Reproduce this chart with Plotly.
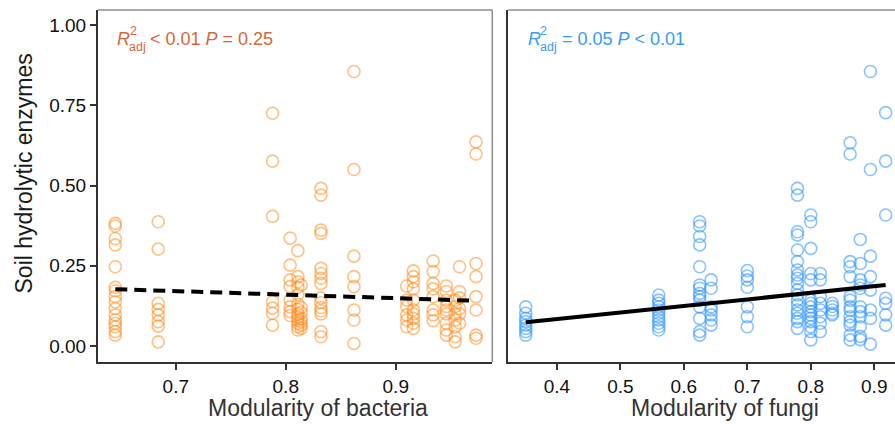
import plotly.graph_objects as go

# ---------------- data ----------------
bac_mod = [0.645, 0.684, 0.788, 0.804, 0.811, 0.814, 0.832, 0.862,
           0.910, 0.916, 0.934, 0.946, 0.954, 0.958, 0.973]
bac_enz = [
    [0.382, 0.374, 0.335, 0.315, 0.247, 0.183, 0.172, 0.154, 0.138, 0.117, 0.097, 0.081, 0.071, 0.060, 0.045, 0.034],
    [0.387, 0.302, 0.133, 0.114, 0.097, 0.076, 0.062, 0.013],
    [0.725, 0.576, 0.404, 0.138, 0.118, 0.102, 0.065],
    [0.336, 0.252, 0.206, 0.185, 0.143, 0.122, 0.107, 0.095],
    [0.297, 0.216, 0.200, 0.183, 0.160, 0.130, 0.115, 0.100, 0.090, 0.080, 0.070, 0.060, 0.050],
    [0.190, 0.120, 0.105, 0.085, 0.075, 0.065, 0.055],
    [0.491, 0.470, 0.361, 0.351, 0.242, 0.226, 0.211, 0.195, 0.150, 0.135, 0.120, 0.110, 0.100, 0.045, 0.029],
    [0.855, 0.550, 0.280, 0.216, 0.185, 0.112, 0.081, 0.008],
    [0.187, 0.143, 0.123, 0.097, 0.081, 0.060],
    [0.234, 0.216, 0.200, 0.178, 0.143, 0.112, 0.100, 0.086, 0.071, 0.055],
    [0.265, 0.232, 0.195, 0.178, 0.154, 0.112, 0.097, 0.079],
    [0.187, 0.170, 0.143, 0.123, 0.112, 0.100, 0.071, 0.050, 0.034],
    [0.143, 0.123, 0.100, 0.081, 0.060, 0.029, 0.013],
    [0.247, 0.170, 0.150, 0.117, 0.100, 0.071],
    [0.636, 0.598, 0.257, 0.216, 0.154, 0.112, 0.034, 0.024],
]

fun_mod = [0.351, 0.5605, 0.625, 0.643, 0.700, 0.779, 0.800, 0.815,
           0.834, 0.862, 0.878, 0.894, 0.918]
fun_enz = [
    [0.122, 0.102, 0.086, 0.076, 0.065, 0.055, 0.045, 0.034],
    [0.159, 0.143, 0.133, 0.122, 0.112, 0.102, 0.091, 0.081, 0.071, 0.060, 0.050],
    [0.387, 0.374, 0.341, 0.315, 0.247, 0.190, 0.180, 0.164, 0.154, 0.143, 0.122, 0.086, 0.045, 0.034],
    [0.206, 0.180, 0.122, 0.112, 0.097, 0.081, 0.065],
    [0.235, 0.218, 0.206, 0.183, 0.122, 0.091, 0.060],
    [0.491, 0.470, 0.356, 0.346, 0.299, 0.263, 0.237, 0.221, 0.211, 0.195, 0.174, 0.159, 0.143, 0.128, 0.112, 0.102, 0.086, 0.076, 0.055],
    [0.408, 0.387, 0.304, 0.226, 0.206, 0.143, 0.133, 0.122, 0.107, 0.097, 0.086, 0.076, 0.060, 0.045, 0.019],
    [0.226, 0.206, 0.154, 0.133, 0.112, 0.091, 0.071, 0.045],
    [0.133, 0.123, 0.112, 0.102, 0.097],
    [0.633, 0.598, 0.263, 0.247, 0.216, 0.154, 0.143, 0.122, 0.112, 0.091, 0.076, 0.065, 0.034, 0.019],
    [0.332, 0.257, 0.206, 0.190, 0.180, 0.122, 0.107, 0.091, 0.060, 0.030, 0.020],
    [0.855, 0.550, 0.280, 0.216, 0.174, 0.112, 0.086, 0.006],
    [0.727, 0.576, 0.408, 0.149, 0.133, 0.097, 0.065],
]

# fitted lines: intercept, slope
bac_fit = [0.248, -0.110]
fun_fit = [0.002, 0.2046]

y_ticks = [0.00, 0.25, 0.50, 0.75, 1.00]
y_tick_labels = ["0.00", "0.25", "0.50", "0.75", "1.00"]
bac_ticks = [0.7, 0.8, 0.9]
fun_ticks = [0.4, 0.5, 0.6, 0.7, 0.8, 0.9]

# ---------------- figure ----------------
W, H = 895, 431

def flat(xs, ys):
    fx, fy = [], []
    for x, col in zip(xs, ys):
        fx += [x] * len(col)
        fy += col
    return fx, fy

bx, by = flat(bac_mod, bac_enz)
fx, fy = flat(fun_mod, fun_enz)

ORANGE = "rgba(255,140,30,0.55)"
BLUE = "rgba(40,145,255,0.55)"

fig = go.Figure()
fig.add_trace(go.Scatter(x=bx, y=by, mode="markers", xaxis="x", yaxis="y",
                         marker=dict(symbol="circle-open", size=12, color=ORANGE,
                                     line=dict(width=1.6, color=ORANGE)),
                         showlegend=False, hoverinfo="skip"))
fig.add_trace(go.Scatter(x=fx, y=fy, mode="markers", xaxis="x2", yaxis="y2",
                         marker=dict(symbol="circle-open", size=12, color=BLUE,
                                     line=dict(width=1.6, color=BLUE)),
                         showlegend=False, hoverinfo="skip"))

bl = [min(bac_mod), max(bac_mod)]
fig.add_trace(go.Scatter(x=bl, y=[bac_fit[0] + bac_fit[1] * v for v in bl],
                         mode="lines", xaxis="x", yaxis="y",
                         line=dict(color="black", width=4, dash="12px,7px"),
                         showlegend=False, hoverinfo="skip"))
fl = [min(fun_mod), max(fun_mod)]
fig.add_trace(go.Scatter(x=fl, y=[fun_fit[0] + fun_fit[1] * v for v in fl],
                         mode="lines", xaxis="x2", yaxis="y2",
                         line=dict(color="black", width=4),
                         showlegend=False, hoverinfo="skip"))

AX = "#333333"
y_dom = [1 - 362 / H, 1 - 10 / H]
y_rng = [-0.0498, 1.0467]
common_x = dict(showgrid=False, zeroline=False, showline=True, linecolor=AX, linewidth=1.5,
                ticks="outside", ticklen=6, tickwidth=1.5, tickcolor=AX,
                tickfont=dict(family="Liberation Sans, Arial", size=19, color="#111111"))

fig.update_layout(
    width=W, height=H, margin=dict(l=0, r=0, t=0, b=0),
    paper_bgcolor="white", plot_bgcolor="white",
    xaxis=dict(domain=[97.7 / W, 492.3 / W], range=[0.6290, 0.9878],
               tickvals=bac_ticks, ticktext=[f"{v:.1f}" for v in bac_ticks], anchor="y", **common_x),
    yaxis=dict(domain=y_dom, range=y_rng, tickvals=y_ticks, ticktext=y_tick_labels,
               showgrid=False, zeroline=False, showline=True, linecolor=AX, linewidth=1.5,
               ticks="outside", ticklen=6, tickwidth=1.5, tickcolor=AX, anchor="x",
               tickfont=dict(family="Liberation Sans, Arial", size=19, color="#111111")),
    xaxis2=dict(domain=[508.3 / W, 1.0], range=[0.3235, 0.9327],
                tickvals=fun_ticks, ticktext=[f"{v:.1f}" for v in fun_ticks], anchor="y2", **common_x),
    yaxis2=dict(domain=y_dom, range=y_rng, showgrid=False, zeroline=False, showline=True,
                linecolor=AX, linewidth=1.5, ticks="", showticklabels=False, anchor="x2"),
)

GRAY = "#8c8c8c"
shapes = [
    dict(type="line", xref="x domain", yref="y domain", x0=0, x1=1, y0=1, y1=1,
         line=dict(color=GRAY, width=1.5)),
    dict(type="line", xref="x domain", yref="y domain", x0=1, x1=1, y0=0, y1=1,
         line=dict(color=GRAY, width=1.5)),
    dict(type="line", xref="x2 domain", yref="y2 domain", x0=0, x1=1, y0=1, y1=1,
         line=dict(color=GRAY, width=1.5)),
]
fig.update_layout(shapes=shapes)

FONT = "Liberation Sans, Arial"
def px(x):
    return x / W
def py(y):
    return 1 - y / H

ann = []
# axis titles
ann.append(dict(text="Soil hydrolytic enzymes", x=px(23), y=py(173.5), textangle=-90,
                font=dict(family=FONT, size=23, color="#1a1a1a")))
ann.append(dict(text="Modularity of bacteria", x=px(317.5), y=py(408),
                font=dict(family=FONT, size=23, color="#333333")))
ann.append(dict(text="Modularity of fungi", x=px(725), y=py(408),
                font=dict(family=FONT, size=23, color="#333333")))

# statistics labels
OC = "#D2693A"
BC = "#3B9BF2"
def stat(x0, color, rest, rest_x):
    out = []
    out.append(dict(text="<i>R</i>", x=px(x0), y=py(39), xanchor="left",
                    font=dict(family=FONT, size=18, color=color)))
    out.append(dict(text="2", x=px(x0 + 12.5), y=py(31), xanchor="left",
                    font=dict(family=FONT, size=12.5, color=color)))
    out.append(dict(text="adj", x=px(x0 + 12), y=py(47), xanchor="left",
                    font=dict(family=FONT, size=12.5, color=color)))
    out.append(dict(text=rest, x=px(rest_x), y=py(39), xanchor="left",
                    font=dict(family=FONT, size=18, color=color)))
    return out

ann += stat(115, OC, "< 0.01 <i>P</i> = 0.25", 148)
ann += stat(525.5, BC, "= 0.05 <i>P</i> < 0.01", 559.5)

for a in ann:
    a.update(xref="paper", yref="paper", showarrow=False, yanchor=a.get("yanchor", "middle"))
    a.setdefault("xanchor", "center")
fig.update_layout(annotations=ann)

fig.write_html("out.html")
